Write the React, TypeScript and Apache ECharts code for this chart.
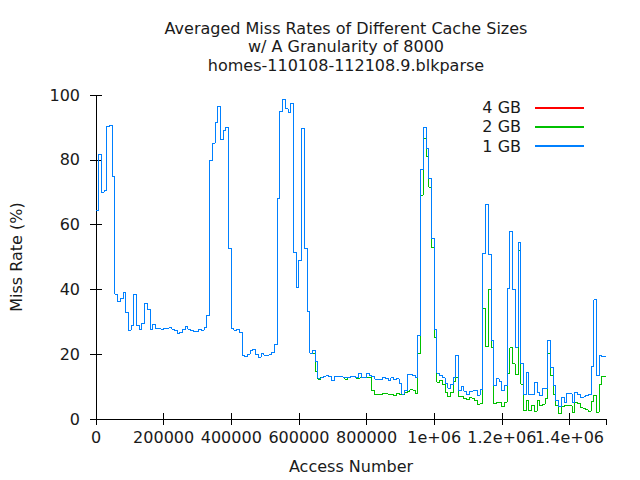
import React, { useEffect, useRef } from "react";
import * as echarts from "echarts";

const titleLines = [
  "Averaged Miss Rates of Different Cache Sizes",
  "w/ A Granularity of 8000",
  "homes-110108-112108.9.blkparse",
];
const seriesNames = ["4 GB", "2 GB", "1 GB"];
const seriesColors = ["#ff0000", "#00c000", "#0080ff"];
const GRANULARITY = 8000;
const X_MAX = 1508000;
const xTickLabels = ["0", "200000", "400000", "600000", "800000", "1e+06", "1.2e+06", "1.4e+06"];
const yTicks = [0, 20, 40, 60, 80, 100];

// Miss rate (%) per 8000-access window
const missRate1GB = [
  64.4, 81.7, 70.0, 70.6, 90.3, 90.6, 75.0, 38.5, 36.3, 37.2,
  39.1, 32.9, 27.4, 28.9, 38.5, 28.9, 27.7, 29.5, 35.7, 33.8,
  27.7, 29.2, 28.0, 28.0, 27.7, 28.0, 28.0, 28.3, 27.7, 27.4,
  26.4, 26.7, 27.7, 28.6, 27.7, 27.4, 27.1, 27.1, 27.7, 27.4,
  28.3, 32.0, 79.8, 85.1, 91.6, 96.5, 86.3, 89.1, 90.0, 52.7,
  28.0, 27.4, 27.7, 26.7, 19.7, 19.3, 20.0, 21.2, 21.5, 20.0,
  19.0, 20.3, 19.7, 19.7, 20.0, 20.5, 23.0, 68.1, 94.9, 98.7,
  95.7, 94.7, 97.4, 51.4, 40.6, 49.0, 89.7, 52.7, 33.1, 20.3,
  21.1, 17.7, 12.6, 12.8, 13.1, 13.4, 13.0, 11.9, 13.0, 13.0,
  13.0, 12.8, 12.8, 12.8, 13.2, 13.2, 12.8, 14.1, 12.7, 12.7,
  14.1, 13.4, 13.1, 12.3, 12.3, 12.3, 12.9, 12.5, 11.9, 12.7,
  12.1, 12.4, 11.1, 7.7, 8.8, 13.7, 13.7, 13.4, 12.9, 25.8,
  77.0, 90.0, 83.5, 74.2, 55.7, 27.5, 14.1, 13.4, 12.7, 11.0,
  9.5, 10.6, 12.7, 19.6, 8.8, 10.0, 8.6, 7.5, 8.6, 8.8,
  8.8, 7.4, 9.0, 51.2, 66.3, 50.8, 24.2, 10.3, 12.4, 11.5,
  8.8, 10.3, 40.2, 58.0, 39.9, 22.2, 54.6, 17.0, 7.5, 14.4,
  7.5, 7.5, 11.3, 8.2, 7.2, 9.3, 9.3, 24.2, 16.0, 10.3,
  5.7, 3.8, 6.7, 5.2, 7.9, 7.7, 5.2, 8.2, 7.5, 6.7,
  6.9, 7.2, 7.5, 16.2, 36.8, 13.4, 19.6, 19.3, 19.3,
];

const missRate2GB = [
  64.4, 81.7, 70.0, 70.6, 90.3, 90.6, 75.0, 38.5, 36.3, 37.2,
  39.1, 32.9, 27.4, 28.9, 38.5, 28.9, 27.7, 29.5, 35.7, 33.8,
  27.7, 29.2, 28.0, 28.0, 27.7, 28.0, 28.0, 28.3, 27.7, 27.4,
  26.4, 26.7, 27.7, 28.6, 27.7, 27.4, 27.1, 27.1, 27.7, 27.4,
  28.3, 32.0, 79.8, 85.1, 91.6, 96.5, 86.3, 89.1, 90.0, 52.7,
  28.0, 27.4, 27.7, 26.7, 19.7, 19.3, 20.0, 21.2, 21.5, 20.0,
  19.0, 20.3, 19.7, 19.7, 20.0, 20.5, 23.0, 68.1, 94.9, 98.7,
  95.7, 94.7, 97.4, 51.4, 40.6, 49.0, 89.7, 52.7, 33.1, 20.3,
  20.3, 14.6, 12.3, 12.8, 13.1, 13.4, 13.0, 11.9, 13.0, 13.0,
  13.0, 12.8, 12.3, 12.8, 13.2, 13.2, 12.6, 12.7, 12.7, 12.7,
  12.7, 12.7, 8.8, 7.5, 7.6, 7.6, 7.9, 7.7, 7.5, 7.7,
  7.2, 7.9, 7.5, 7.5, 8.2, 8.6, 9.0, 8.8, 8.0, 20.1,
  69.1, 86.6, 80.9, 71.6, 52.8, 25.1, 11.3, 11.9, 10.8, 8.2,
  6.9, 8.2, 11.6, 12.7, 6.9, 6.9, 6.2, 5.9, 6.5, 6.2,
  5.7, 4.6, 4.9, 34.0, 22.4, 40.0, 22.0, 4.8, 5.2, 5.0,
  3.8, 5.2, 13.9, 22.0, 17.0, 13.6, 52.0, 10.8, 2.6, 5.7,
  2.6, 4.1, 2.4, 5.7, 4.1, 4.6, 6.2, 20.1, 13.4, 7.7,
  4.1, 1.8, 3.8, 4.1, 4.1, 4.1, 2.1, 5.2, 4.8, 3.4,
  3.1, 2.8, 2.4, 5.5, 7.2, 2.1, 10.6, 13.1, 13.1,
];

const missRate4GB = [
  64.4, 81.7, 70.0, 70.6, 90.3, 90.6, 75.0, 38.5, 36.3, 37.2,
  39.1, 32.9, 27.4, 28.9, 38.5, 28.9, 27.7, 29.5, 35.7, 33.8,
  27.7, 29.2, 28.0, 28.0, 27.7, 28.0, 28.0, 28.3, 27.7, 27.4,
  26.4, 26.7, 27.7, 28.6, 27.7, 27.4, 27.1, 27.1, 27.7, 27.4,
  28.3, 32.0, 79.8, 85.1, 91.6, 96.5, 86.3, 89.1, 90.0, 52.7,
  28.0, 27.4, 27.7, 26.7, 19.7, 19.3, 20.0, 21.2, 21.5, 20.0,
  19.0, 20.3, 19.7, 19.7, 20.0, 20.5, 23.0, 68.1, 94.9, 98.7,
  95.7, 94.7, 97.4, 51.4, 40.6, 49.0, 89.7, 52.7, 33.1, 20.3,
  20.3, 14.6, 12.3, 12.8, 13.1, 13.4, 13.0, 11.9, 13.0, 13.0,
  13.0, 12.8, 12.3, 12.8, 13.2, 13.2, 12.6, 12.7, 12.7, 12.7,
  12.7, 12.7, 8.8, 7.5, 7.6, 7.6, 7.9, 7.7, 7.5, 7.7,
  7.2, 7.9, 7.5, 7.5, 8.2, 8.6, 9.0, 8.8, 8.0, 20.1,
  69.1, 86.6, 80.9, 71.6, 52.8, 25.1, 11.3, 11.9, 10.8, 8.2,
  6.9, 8.2, 11.6, 12.7, 6.9, 6.9, 6.2, 5.9, 6.5, 6.2,
  5.7, 4.6, 4.9, 34.0, 22.4, 40.0, 22.0, 4.8, 5.2, 5.0,
  3.8, 5.2, 13.9, 22.0, 17.0, 13.6, 52.0, 10.8, 2.6, 5.7,
  2.6, 4.1, 2.4, 5.7, 4.1, 4.6, 6.2, 20.1, 13.4, 7.7,
  4.1, 1.8, 3.8, 4.1, 4.1, 4.1, 2.1, 5.2, 4.8, 3.4,
  3.1, 2.8, 2.4, 5.5, 7.2, 2.1, 10.6, 13.1, 13.1,
];

const FONT = "DejaVu Sans";
const FONT_SIZE = 16;

function toSteps(values: number[]) {
  const pts: [number, number][] = values.map((v, i) => [i * GRANULARITY, v]);
  pts.push([X_MAX, values[values.length - 1]]);
  return pts;
}

export default function App() {
  const ref = useRef<HTMLDivElement>(null);
  useEffect(() => {
    if (!ref.current) return;
    const chart = echarts.init(ref.current, undefined, { renderer: "svg" });
    const step = 200000;
    const xLabel = (v: number) => {
      const k = v / step;
      return Number.isInteger(k) && k < xTickLabels.length ? xTickLabels[k] : "";
    };
    const txt = { fontFamily: FONT, fontSize: FONT_SIZE, color: "#1a1a1a" };
    const axisLine = { show: true, lineStyle: { color: "#000", width: 1 } };
    const tick = { show: true, inside: true, length: 6, lineStyle: { color: "#000", width: 1 } };
    const all = [missRate4GB, missRate2GB, missRate1GB];
    chart.setOption({
      animation: false,
      backgroundColor: "#fff",
      color: seriesColors,
      title: {
        text: titleLines.join("\n"),
        left: 346,
        top: 19,
        padding: 0,
        textAlign: "center",
        textStyle: { ...txt, fontWeight: "normal", lineHeight: 18.5 },
      },
      legend: {
        orient: "vertical",
        right: 55,
        top: 98,
        padding: 0,
        align: "right",
        itemWidth: 49,
        itemHeight: 12,
        itemGap: 0,
        itemStyle: { opacity: 0 },
        data: seriesNames,
        textStyle: { ...txt, lineHeight: 19.2, padding: [0, 9, 0, 0] },
      },
      grid: { left: 91, right: 34, top: 95, bottom: 61, containLabel: false },
      xAxis: [
        {
          type: "value",
          min: 0,
          max: X_MAX,
          interval: step,
          name: "Access Number",
          nameLocation: "middle",
          nameGap: 47,
          nameTextStyle: { ...txt, verticalAlign: "middle" },
          axisLine,
          axisTick: tick,
          splitLine: { show: false },
          axisLabel: { ...txt, formatter: xLabel, margin: 10, showMaxLabel: false },
        },
        {
          type: "value",
          position: "top",
          min: 0,
          max: X_MAX,
          interval: step,
          axisLine,
          axisTick: tick,
          splitLine: { show: false },
          axisLabel: { show: false },
        },
      ],
      yAxis: [
        {
          type: "value",
          min: yTicks[0],
          max: yTicks[yTicks.length - 1],
          interval: 20,
          name: "Miss Rate (%)",
          nameLocation: "middle",
          nameGap: 80,
          nameRotate: 90,
          nameTextStyle: { ...txt, verticalAlign: "middle", align: "center" },
          axisLine,
          axisTick: tick,
          splitLine: { show: false },
          axisLabel: { ...txt, margin: 16 },
        },
        {
          type: "value",
          position: "right",
          min: yTicks[0],
          max: yTicks[yTicks.length - 1],
          interval: 20,
          axisLine,
          axisTick: tick,
          splitLine: { show: false },
          axisLabel: { show: false },
        },
      ],
      series: all.map((vals, i) => ({
        name: seriesNames[i],
        type: "line",
        step: "end",
        xAxisIndex: 0,
        yAxisIndex: 0,
        data: toSteps(vals),
        showSymbol: false,
        symbol: "none",
        color: seriesColors[i],
        itemStyle: { color: seriesColors[i] },
        lineStyle: { color: seriesColors[i], width: 1 },
        clip: true,
      })),
    });
    return () => chart.dispose();
  }, []);
  return (
    <>
      <style>{".gp-chart svg path { shape-rendering: crispEdges; }"}</style>
      <div
        ref={ref}
        className="gp-chart"
        style={{ position: "fixed", left: 0, top: 0, width: 640, height: 480, background: "#fff" }}
      />
    </>
  );
}
